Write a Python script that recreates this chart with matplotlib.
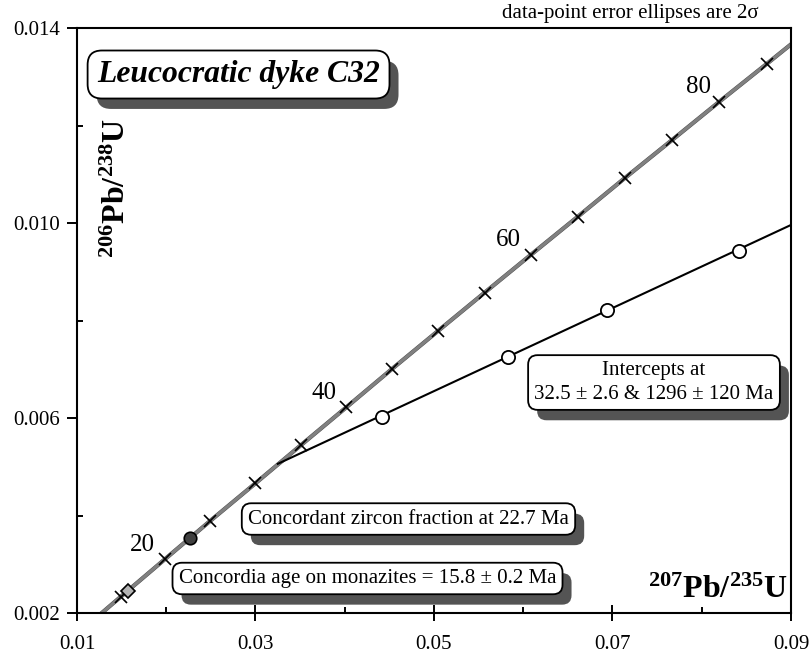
import matplotlib
matplotlib.use("Agg")
import matplotlib.pyplot as plt
import matplotlib.patheffects as pe
from matplotlib.ticker import MultipleLocator

plt.rcParams['font.family'] = ['Liberation Serif', 'DejaVu Serif']
plt.rcParams['mathtext.fontset'] = 'custom'
plt.rcParams['mathtext.rm'] = 'Liberation Serif'
plt.rcParams['mathtext.bf'] = 'Liberation Serif:bold'
plt.rcParams['mathtext.it'] = 'Liberation Serif:italic'

# concordia curve, age marks every 5 Ma
conc_age = [10, 15, 20, 25, 30, 35, 40, 45, 50, 55, 60, 65, 70, 75, 80, 85, 90]
conc_x = [0.00990, 0.01488, 0.01989, 0.02493, 0.02999, 0.03507, 0.04018, 0.04532, 0.05048,
          0.05566, 0.06087, 0.06611, 0.07137, 0.07666, 0.08198, 0.08732, 0.09268]
conc_y = [0.00155, 0.00233, 0.00311, 0.00389, 0.00466, 0.00544, 0.00622, 0.00701, 0.00779,
          0.00857, 0.00935, 0.01013, 0.01092, 0.01170, 0.01249, 0.01327, 0.01406]
label_ages = [20, 40, 60, 80]
label_x = [0.01728, 0.03768, 0.05829, 0.07969]
label_y = [0.003395, 0.006513, 0.009651, 0.01279]

# discordia through the zircon fractions
disc_x = [0.0325, 0.090]
disc_y = [0.00506, 0.00996]
zircon_x = [0.04417, 0.05829, 0.06938, 0.08420]
zircon_y = [0.00602, 0.00725, 0.00822, 0.00943]

# concordant zircon (22.7 Ma) and monazite concordia age (15.8 Ma)
conc_zircon = (0.02261, 0.00353)
monazite = (0.01568, 0.00245)

fig = plt.figure(figsize=(8.12, 6.57), dpi=100)
ax = fig.add_axes([77 / 812, 44 / 657, 714 / 812, 585 / 657])
ax.set_xlim(0.01, 0.09)
ax.set_ylim(0.002, 0.014)

ax.plot(conc_x, conc_y, color='0.5', lw=2.4, zorder=2,
        path_effects=[pe.Stroke(linewidth=3.0, foreground='0.3'), pe.Normal()])
ax.plot(conc_x[1:-1], conc_y[1:-1], linestyle='none', marker='x', ms=8, mew=1.2,
        color='black', zorder=3)
for a, lx, ly in zip(label_ages, label_x, label_y):
    ax.text(lx, ly, str(a), fontsize=18, ha='center', va='center', zorder=4)

ax.plot(disc_x, disc_y, color='black', lw=1.5, zorder=3)
ax.plot(zircon_x, zircon_y, linestyle='none', marker='o', ms=9.5, mfc='white',
        mec='black', mew=1.3, zorder=5)
ax.plot(*conc_zircon, marker='o', ms=9, mfc='0.25', mec='black', mew=1.2, zorder=5)
ax.plot(*monazite, marker='D', ms=7.5, mfc='0.7', mec='black', mew=1.2, zorder=5)


def shadow_box(x, y, text, **kw):
    t = ax.text(x, y, text, ha='center', va='center', zorder=6,
                bbox=dict(boxstyle='round,pad=0.3,rounding_size=0.45', fc='white',
                          ec='black', lw=1.3), **kw)
    t.get_bbox_patch().set_path_effects([
        pe.SimplePatchShadow(offset=(6.5, -7.5), shadow_rgbFace='0.33', alpha=1.0),
        pe.Normal()])
    return t


shadow_box(0.02810, 0.013046, 'Leucocratic dyke C32', fontsize=22.8,
           fontweight='bold', fontstyle='italic')
shadow_box(0.07465, 0.006728, 'Intercepts at\n32.5 \u00b1 2.6 & 1296 \u00b1 120 Ma',
           fontsize=15, linespacing=1.3)
shadow_box(0.04714, 0.003928, 'Concordant zircon fraction at 22.7 Ma', fontsize=15)
shadow_box(0.04255, 0.002708, 'Concordia age on monazites = 15.8 \u00b1 0.2 Ma',
           fontsize=15)

ax.text(0.7745, 1.024, 'data-point error ellipses are 2\u03c3', transform=ax.transAxes,
        ha='center', va='center', fontsize=15)
ax.text(0.057, 0.7265, r'$\mathbf{{}^{206}Pb/{}^{238}U}$', transform=ax.transAxes,
        rotation=90, ha='center', va='center', fontsize=23)
ax.text(0.9958, 0.0256, r'$\mathbf{{}^{207}Pb/{}^{235}U}$', transform=ax.transAxes,
        ha='right', va='baseline', fontsize=23)

ax.set_xticks([0.01, 0.03, 0.05, 0.07, 0.09])
ax.set_xticklabels(['0.01', '0.03', '0.05', '0.07', '0.09'])
ax.set_yticks([0.002, 0.006, 0.010, 0.014])
ax.set_yticklabels(['0.002', '0.006', '0.010', '0.014'])
ax.xaxis.set_minor_locator(MultipleLocator(0.01))
ax.yaxis.set_minor_locator(MultipleLocator(0.002))
ax.tick_params(axis='x', which='major', direction='inout', length=11, width=1.4,
               labelsize=15, pad=10)
ax.tick_params(axis='y', which='major', direction='out', length=7, width=1.4,
               labelsize=15, pad=5)
ax.tick_params(which='minor', direction='in', length=4, width=1.4)
for s in ax.spines.values():
    s.set_linewidth(1.5)

fig.savefig('out.png', dpi=100)
